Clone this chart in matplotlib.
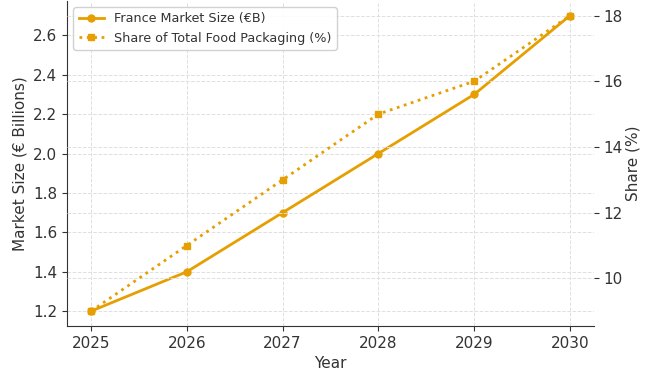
import matplotlib
matplotlib.use("Agg")
import matplotlib.pyplot as plt

years = [2025, 2026, 2027, 2028, 2029, 2030]
market_size = [1.2, 1.4, 1.7, 2.0, 2.3, 2.7]   # € billions
share_pct = [9, 11, 13, 15, 16, 18]              # % of food packaging

ORANGE = "#E69F00"
TXT = "#333333"
plt.rcParams["text.color"] = TXT
plt.rcParams["axes.labelcolor"] = TXT
plt.rcParams["xtick.color"] = TXT
plt.rcParams["ytick.color"] = TXT
plt.rcParams["axes.edgecolor"] = TXT

fig, ax = plt.subplots(figsize=(6.57, 3.72), dpi=100)
fig.subplots_adjust(left=67 / 657, right=594 / 657, bottom=1 - 326 / 372, top=0.998)

l1, = ax.plot(years, market_size, "o-", color=ORANGE, linewidth=2, markersize=5,
              label="France Market Size (€B)")
ax.set_xlabel("Year", fontsize=11)
ax.set_ylabel("Market Size (€ Billions)", fontsize=11)
ax.set_yticks([1.2, 1.4, 1.6, 1.8, 2.0, 2.2, 2.4, 2.6])
ax.tick_params(labelsize=11)
ax.grid(True, linestyle="--", color="#e0e0e0", linewidth=0.7)
for s in ["top", "right"]:
    ax.spines[s].set_visible(False)

ax2 = ax.twinx()
l2, = ax2.plot(years, share_pct, "s:", color=ORANGE, linewidth=2, markersize=5,
               label="Share of Total Food Packaging (%)")
ax2.set_ylabel("Share (%)", fontsize=11, labelpad=2)
ax2.set_yticks([10, 12, 14, 16, 18])
ax2.tick_params(labelsize=11)
ax2.grid(True, axis="y", linestyle="--", color="#e0e0e0", linewidth=0.7)
for s in ["top", "right", "left", "bottom"]:
    ax2.spines[s].set_visible(False)

# legend on the twin axes so the right-axis grid stays behind it
ax2.legend(handles=[l1, l2], loc="upper left", fontsize=9.2, framealpha=0.9)

plt.savefig("out.png", dpi=100)
plt.close()
